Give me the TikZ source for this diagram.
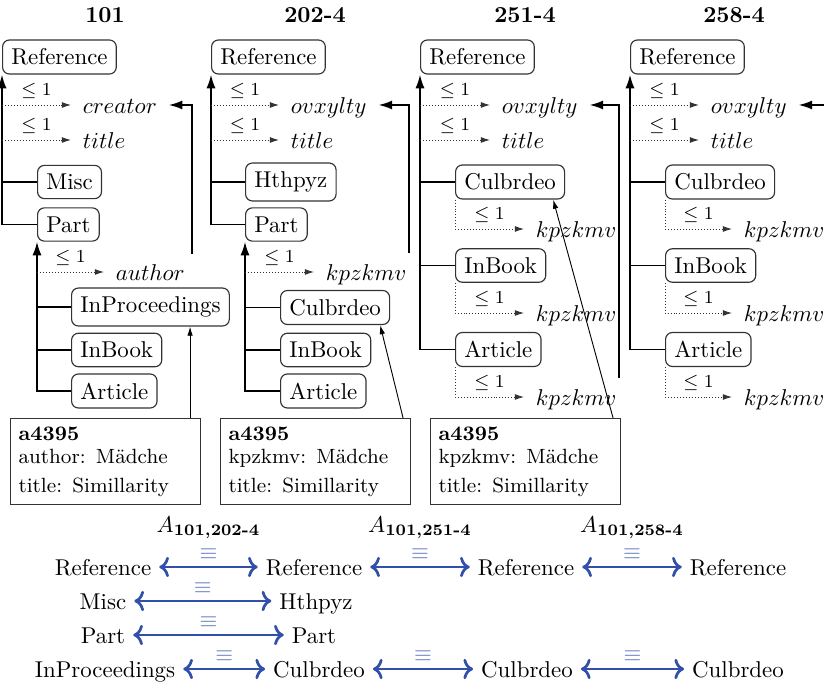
\documentclass[tikz,border=0pt]{standalone}
\usepackage{amsmath}
\usetikzlibrary{arrows.meta,positioning,calc}
\definecolor{eqblue}{RGB}{50,80,170}
\begin{document}
\begin{tikzpicture}[
    x=0.437pt, y=-0.437pt,
    % Define styles
    cls/.style={
        rectangle,
        rounded corners=3pt,
        draw=black!80,
        line width=0.5pt,
        inner sep=3.8pt,
        anchor=west
    },
    attr/.style={
        inner xsep=5pt,
        inner ysep=0pt,
        text height=7pt,
        text depth=0pt,
        anchor=base west
    },
    card/.style={
        font=\footnotesize,
        above,
        inner sep=2.5pt
    },
    dotarr/.style={
        dash pattern=on 0.4pt off 0.9pt,
        line width=0.4pt,
        draw=black!80,
        -{Latex[length=4pt,width=2.6pt]}
    },
    isa/.style={
        thick,
        -{Latex[length=6pt,width=4pt]}
    },
    ptr/.style={
        line width=0.4pt,
        -{Latex[length=4pt,width=2.4pt]}
    },
    obj/.style={
        rectangle,
        draw=black!80,
        line width=0.5pt,
        anchor=north west,
        font=\small,
        align=left,
        text width=76pt,
        inner xsep=3.5pt,
        minimum height=37.6pt
    },
    ttl/.style={
        font=\bfseries
    },
    bnode/.style={
        anchor=base,
        text height=7pt,
        text depth=0pt,
        inner ysep=0pt
    },
    eqv/.style={
        <->,
        line width=1.2pt,
        eqblue
    },
    eqlbl/.style={
        above,
        inner sep=2.5pt,
        text=eqblue!80
    }
]
\useasboundingbox (0,0) rectangle (824,686);

% Titles
\node[ttl] (t1) at (105,15) {101};
\node[ttl] (t2) at (315,15) {202-4};
\node[ttl] (t3) at (525,15) {251-4};
\node[ttl] (t4) at (734,15) {258-4};

% Ontology 101
\node[cls] (ref1) at (2,57) {Reference};
\node[attr] (creator1) at (71,113) {$creator$};
\node[attr] (title1) at (71,148) {$title$};
\node[cls] (misc1) at (37,182) {Misc};
\node[cls] (part1) at (37,224.5) {Part};
\node[attr] (author1) at (104,280) {$author$};
\node[cls] (inproc1) at (71,307) {InProceedings};
\node[cls] (inbook1) at (71,350) {InBook};
\node[cls] (article1) at (71,391) {Article};

\draw[isa] (part1.west) -| (ref1.south west);
\draw[thick] (misc1.west) -- (misc1.west -| ref1.south west);
\draw[dotarr] (creator1.west -| ref1.south west) -- node[card] {$\leq 1$} (creator1.west);
\draw[dotarr] (title1.west -| ref1.south west) -- node[card] {$\leq 1$} (title1.west);
\coordinate (sub1) at (192,254);
\draw[isa] (sub1) |- (creator1.east);

\draw[isa] (article1.west) -| (part1.south west);
\draw[thick] (inproc1.west) -- (inproc1.west -| part1.south west);
\draw[thick] (inbook1.west) -- (inbook1.west -| part1.south west);
\draw[dotarr] (author1.west -| part1.south west) -- node[card] {$\leq 1$} (author1.west);

% Ontology 202-4
\node[cls] (ref2) at (211,57) {Reference};
\node[attr] (ovx2) at (279,113) {$ovxylty$};
\node[attr] (title2) at (279,148) {$title$};
\node[cls] (hth2) at (245,182) {Hthpyz};
\node[cls] (part2) at (245,224.5) {Part};
\node[attr] (kpz2) at (314,280) {$kpzkmv$};
\node[cls] (culb2) at (280,307.5) {Culbrdeo};
\node[cls] (inbook2) at (280,350) {InBook};
\node[cls] (article2) at (280,391) {Article};

\draw[isa] (part2.west) -| (ref2.south west);
\draw[thick] (hth2.west) -- (hth2.west -| ref2.south west);
\draw[dotarr] (ovx2.west -| ref2.south west) -- node[card] {$\leq 1$} (ovx2.west);
\draw[dotarr] (title2.west -| ref2.south west) -- node[card] {$\leq 1$} (title2.west);
\coordinate (sub2) at (409,253);
\draw[isa] (sub2) |- (ovx2.east);

\draw[isa] (article2.west) -| (part2.south west);
\draw[thick] (culb2.west) -- (culb2.west -| part2.south west);
\draw[thick] (inbook2.west) -- (inbook2.west -| part2.south west);
\draw[dotarr] (kpz2.west -| part2.south west) -- node[card] {$\leq 1$} (kpz2.west);

% Ontology 251-4
\node[cls] (ref3) at (420,57) {Reference};
\node[attr] (ovx3) at (490,113) {$ovxylty$};
\node[attr] (title3) at (490,148) {$title$};
\node[cls] (culb3) at (455,182) {Culbrdeo};
\node[attr] (kpz3a) at (524,237) {$kpzkmv$};
\node[cls] (inbook3) at (455,265.5) {InBook};
\node[attr] (kpz3b) at (524,321) {$kpzkmv$};
\node[cls] (article3) at (455,349.5) {Article};
\node[attr] (kpz3c) at (524,405) {$kpzkmv$};

\draw[isa] (article3.west) -| (ref3.south west);
\draw[thick] (culb3.west) -- (culb3.west -| ref3.south west);
\draw[thick] (inbook3.west) -- (inbook3.west -| ref3.south west);
\draw[dotarr] (ovx3.west -| ref3.south west) -- node[card] {$\leq 1$} (ovx3.west);
\draw[dotarr] (title3.west -| ref3.south west) -- node[card] {$\leq 1$} (title3.west);
\draw[dotarr] (culb3.south west) |- node[card, pos=0.75] {$\leq 1$} (kpz3a.west);
\draw[dotarr] (inbook3.south west) |- node[card, pos=0.75] {$\leq 1$} (kpz3b.west);
\draw[dotarr] (article3.south west) |- node[card, pos=0.75] {$\leq 1$} (kpz3c.west);
\coordinate (sub3) at (619,378);
\draw[isa] (sub3) |- (ovx3.east);

% Ontology 258-4
\node[cls] (ref4) at (630,57) {Reference};
\node[attr] (ovx4) at (699,113) {$ovxylty$};
\node[attr] (title4) at (699,148) {$title$};
\node[cls] (culb4) at (665,182) {Culbrdeo};
\node[attr] (kpz4a) at (732,237) {$kpzkmv$};
\node[cls] (inbook4) at (665,265.5) {InBook};
\node[attr] (kpz4b) at (732,321) {$kpzkmv$};
\node[cls] (article4) at (665,349.5) {Article};
\node[attr] (kpz4c) at (732,405) {$kpzkmv$};

\draw[isa] (article4.west) -| (ref4.south west);
\draw[thick] (culb4.west) -- (culb4.west -| ref4.south west);
\draw[thick] (inbook4.west) -- (inbook4.west -| ref4.south west);
\draw[dotarr] (ovx4.west -| ref4.south west) -- node[card] {$\leq 1$} (ovx4.west);
\draw[dotarr] (title4.west -| ref4.south west) -- node[card] {$\leq 1$} (title4.west);
\draw[dotarr] (culb4.south west) |- node[card, pos=0.75] {$\leq 1$} (kpz4a.west);
\draw[dotarr] (inbook4.south west) |- node[card, pos=0.75] {$\leq 1$} (kpz4b.west);
\draw[dotarr] (article4.south west) |- node[card, pos=0.75] {$\leq 1$} (kpz4c.west);
\coordinate (sub4) at (824,105);
\draw[isa] (sub4) -- (ovx4.east);

% Instance boxes
\node[obj] (obj1) at (10,418) {\textbf{a4395}\\[-1pt] author: Mädche\\[1.7pt] title: Simillarity};
\node[obj] (obj2) at (220,418) {\textbf{a4395}\\[-1pt] kpzkmv: Mädche\\[1.7pt] title: Simillarity};
\node[obj] (obj3) at (430,418) {\textbf{a4395}\\[-1pt] kpzkmv: Mädche\\[1.7pt] title: Simillarity};

\coordinate (p1) at ($(obj1.north east)+(-11,0)$);
\draw[ptr] (p1) -- (p1 |- inproc1.south);
\draw[ptr] ($(obj2.north east)+(-8,0)$) -- ($(culb2.south east)+(-10,0)$);
\draw[ptr] ($(obj3.north east)+(-8,0)$) -- ($(culb3.south east)+(-12,0)$);

% Alignments
\node[bnode] (r1a) at (103,575) {Reference};
\node[bnode] (r1b) at (314,575) {Reference};
\node[bnode] (r1c) at (526,575) {Reference};
\node[bnode] (r1d) at (738,575) {Reference};
\node[bnode] (r2a) at (103,609) {Misc};
\node[bnode] (r2b) at (316,609) {Hthpyz};
\node[bnode] (r3a) at (103,643) {Part};
\node[bnode] (r3b) at (314,643) {Part};
\node[bnode] (r4a) at (105,677) {InProceedings};
\node[bnode] (r4b) at (319,677) {Culbrdeo};
\node[bnode] (r4c) at (527,677) {Culbrdeo};
\node[bnode] (r4d) at (738,677) {Culbrdeo};

\draw[eqv] (r1a) -- node[eqlbl] (e1) {$\equiv$} (r1b);
\draw[eqv] (r1b) -- node[eqlbl] (e2) {$\equiv$} (r1c);
\draw[eqv] (r1c) -- node[eqlbl] (e3) {$\equiv$} (r1d);
\draw[eqv] (r2a) -- node[eqlbl] {$\equiv$} (r2b);
\draw[eqv] (r3a) -- node[eqlbl] {$\equiv$} (r3b);
\draw[eqv] (r4a) -- node[eqlbl] {$\equiv$} (r4b);
\draw[eqv] (r4b) -- node[eqlbl] {$\equiv$} (r4c);
\draw[eqv] (r4c) -- node[eqlbl] {$\equiv$} (r4d);

\node[above=-2pt of e1] (a1) {$A_{\textbf{101,202-4}}$};
\node[above=-2pt of e2] (a2) {$A_{\textbf{101,251-4}}$};
\node[above=-2pt of e3] (a3) {$A_{\textbf{101,258-4}}$};
\end{tikzpicture}
\end{document}
